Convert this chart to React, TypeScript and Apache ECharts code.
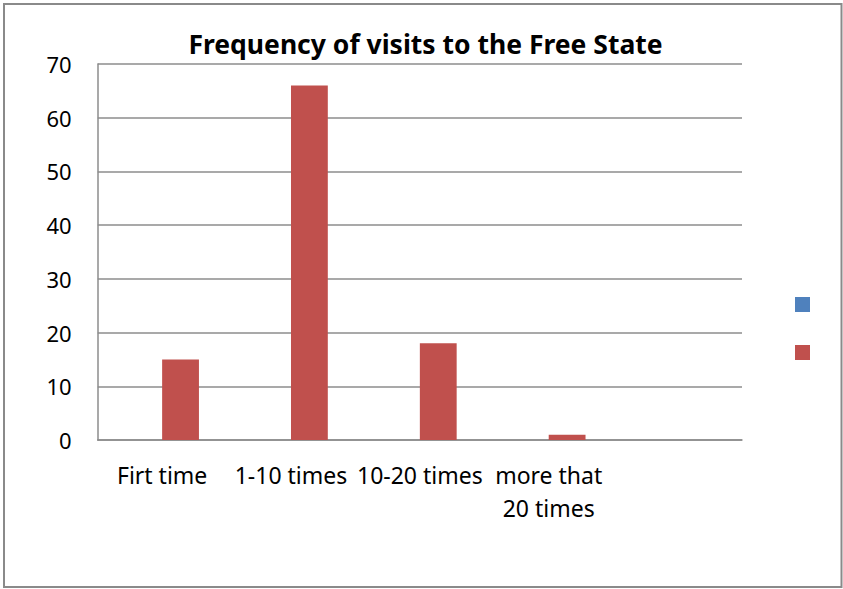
import React, { useEffect, useRef } from "react";
import * as echarts from "echarts";

// Visit-frequency categories (last slot is an empty category)
const categories: string[] = ["Firt time", "1-10 times", "10-20 times", "more that\n20 times", ""];
// First series has no values; it only reserves its slot in each category
const series1Values: (number | null)[] = [null, null, null, null, null];
// Second series: number of respondents per category
const series2Values: (number | null)[] = [15, 66, 18, 1, null];
const yTicks = { min: 0, max: 70, interval: 10 };

const TITLE = "Frequency of visits to the Free State";
const FONT = "'Noto Sans', 'DejaVu Sans', sans-serif";
const GRID_COLOR = "#8c8c8c";

export default function App() {
  const ref = useRef<HTMLDivElement>(null);

  useEffect(() => {
    if (!ref.current) return;
    const chart = echarts.init(ref.current, null, { renderer: "svg" });
    chart.setOption({
      animation: false,
      backgroundColor: "#ffffff",
      textStyle: { fontFamily: FONT },
      title: {
        text: TITLE,
        left: 425.5,
        textAlign: "center",
        top: 30,
        padding: 0,
        textStyle: { fontFamily: FONT, fontSize: 26.5, fontWeight: "bold", color: "#000" },
      },
      legend: {
        orient: "vertical",
        left: 795,
        top: 297,
        padding: 0,
        itemWidth: 15,
        itemHeight: 15,
        itemGap: 33,
        icon: "rect",
        formatter: () => "",
        selectedMode: false,
        data: ["Series1", "Series2"],
      },
      grid: {
        left: 97.7,
        right: 101,
        top: 64,
        bottom: 149,
        containLabel: false,
        outerBoundsMode: "none",
      },
      xAxis: {
        type: "category",
        data: categories,
        axisLine: { show: true, lineStyle: { color: GRID_COLOR, width: 1.5 } },
        axisTick: { show: false },
        axisLabel: {
          interval: 0,
          color: "#000",
          fontFamily: FONT,
          fontSize: 23,
          lineHeight: 33,
          margin: 18,
          align: "center",
        },
        splitLine: { show: false },
      },
      yAxis: {
        type: "value",
        min: yTicks.min,
        max: yTicks.max,
        interval: yTicks.interval,
        axisLine: { show: true, lineStyle: { color: GRID_COLOR, width: 1.5 } },
        axisTick: { show: false },
        axisLabel: { color: "#000", fontFamily: FONT, fontSize: 22, margin: 26 },
        splitLine: { show: true, lineStyle: { color: GRID_COLOR, width: 1.5 } },
      },
      series: [
        {
          name: "Series1",
          type: "bar",
          data: series1Values,
          itemStyle: { color: "#4F81BD" },
          barGap: "0%",
          barCategoryGap: "42.86%",
        },
        {
          name: "Series2",
          type: "bar",
          data: series2Values,
          itemStyle: { color: "#C0504D" },
          barGap: "0%",
          barCategoryGap: "42.86%",
        },
      ],
      graphic: [
        {
          type: "rect",
          shape: { x: 4, y: 4, width: 837.5, height: 583 },
          style: { fill: "none", stroke: "#8a8a8a", lineWidth: 2 },
          silent: true,
          z: 100,
        },
      ],
    });
    return () => chart.dispose();
  }, []);

  return (
    <div
      ref={ref}
      style={{ position: "fixed", left: 0, top: 0, width: 843, height: 589 }}
    />
  );
}
